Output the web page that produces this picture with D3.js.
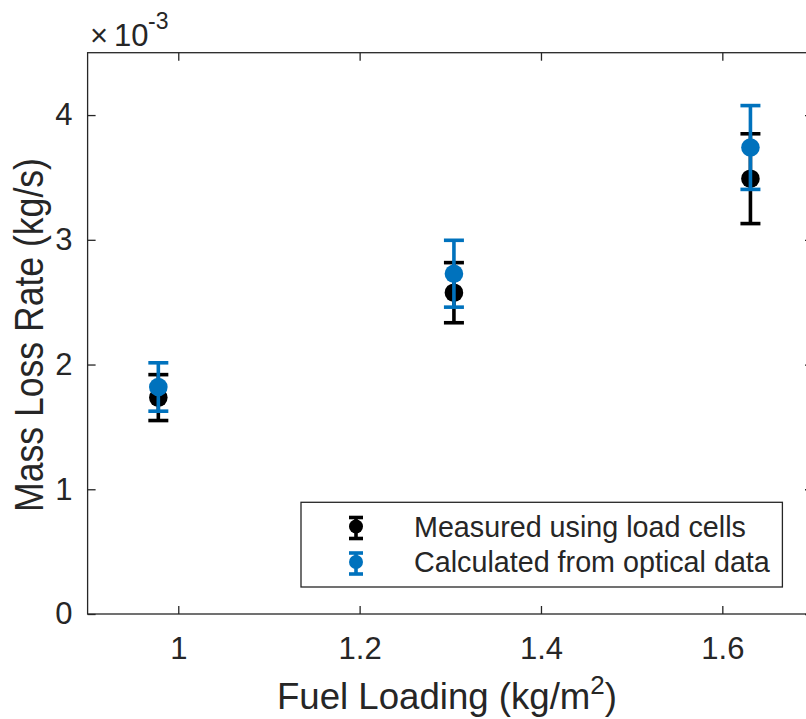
<!DOCTYPE html>
<html>
<head>
<meta charset="utf-8">
<script src="https://cdn.jsdelivr.net/npm/d3@7"></script>
<style>
  html, body { margin: 0; padding: 0; background: #fff; }
  svg { display: block; }
  text { font-family: "Liberation Sans", Arial, Helvetica, sans-serif; fill: #262626; }
</style>
</head>
<body>
<svg id="chart" width="806" height="719"></svg>
<script>
// Fuel loading (kg/m^2) for the three test cases
const fuelLoading = [0.978, 1.304, 1.631];
// Mass loss rate, in units of 1e-3 kg/s
const measuredRate = [1.735, 2.576, 3.49];
const measuredErr = [0.184, 0.241, 0.36];
const opticalRate = [1.82, 2.728, 3.74];
const opticalErr = [0.194, 0.268, 0.336];

const xTicks = [1, 1.2, 1.4, 1.6];
const yTicks = [0, 1, 2, 3, 4];
const seriesNames = ["Measured using load cells", "Calculated from optical data"];
const seriesColors = ["#000000", "#0072BD"];

const svg = d3.select("#chart");
const axisColor = "#262626";

const plot = { left: 87.6, top: 52.7, right: 813, bottom: 614 };

const x = d3.scaleLinear().domain([0.9, 1.7]).range([plot.left, plot.right]);
const y = d3.scaleLinear().domain([0, 4.5]).range([plot.bottom, plot.top]);

// Shrink or grow a text node's font so that it spans the given length
function fitText(sel, len) {
  const node = sel.node();
  const size = parseFloat(sel.attr("font-size"));
  const w = node.getComputedTextLength();
  if (w > 0) sel.attr("font-size", size * len / w);
  return sel;
}

// Box outline
svg.append("rect")
  .attr("x", plot.left).attr("y", plot.top)
  .attr("width", plot.right - plot.left).attr("height", plot.bottom - plot.top)
  .attr("fill", "none").attr("stroke", axisColor).attr("stroke-width", 1.3);

function styleAxis(g, showText) {
  g.select(".domain").remove();
  g.selectAll(".tick line").attr("stroke", axisColor).attr("stroke-width", 1.3);
  if (!showText) g.selectAll(".tick text").remove();
  else g.selectAll(".tick text").attr("fill", axisColor).attr("font-size", 31)
        .attr("font-family", "Liberation Sans, Arial, sans-serif");
}

const fmt = d => String(d);

svg.append("g").attr("transform", `translate(0,${plot.bottom})`)
  .call(d3.axisBottom(x).tickValues(xTicks).tickFormat(fmt).tickSizeInner(-8).tickSizeOuter(0).tickPadding(23))
  .call(g => styleAxis(g, true));
svg.append("g").attr("transform", `translate(0,${plot.top})`)
  .call(d3.axisTop(x).tickValues(xTicks).tickSizeInner(-8).tickSizeOuter(0))
  .call(g => styleAxis(g, false));
svg.append("g").attr("transform", `translate(${plot.left},0)`)
  .call(d3.axisLeft(y).tickValues(yTicks).tickFormat(fmt).tickSizeInner(-8).tickSizeOuter(0).tickPadding(15))
  .call(g => styleAxis(g, true));
svg.append("g").attr("transform", `translate(${plot.right},0)`)
  .call(d3.axisRight(y).tickValues(yTicks).tickSizeInner(-8).tickSizeOuter(0))
  .call(g => styleAxis(g, false));

// Exponent label above the y axis
const expo = svg.append("text").attr("y", 45.5).attr("font-size", 31);
expo.append("tspan").attr("x", 90).text("\u00D7");
expo.append("tspan").attr("x", 114).text("10");
expo.append("tspan").attr("x", 148).attr("dy", -17).attr("font-size", 23).text("-3");

// Axis titles
const xt = svg.append("text").attr("x", 447).attr("y", 709).attr("text-anchor", "middle").attr("font-size", 37);
xt.append("tspan").text("Fuel Loading (kg/m");
xt.append("tspan").attr("dy", -15).attr("font-size", 26).text("2");
xt.append("tspan").attr("dy", 15).text(")");
fitText(xt, 340);

const yt = svg.append("text")
  .attr("text-anchor", "middle").attr("font-size", 37)
  .text("Mass Loss Rate (kg/s)");
fitText(yt, 354);
yt.attr("transform", `translate(43,335) rotate(-90) scale(1,1.16)`);

// Error bars with circular markers
const capHalf = 10;
const series = [
  { vals: measuredRate, errs: measuredErr, color: seriesColors[0] },
  { vals: opticalRate, errs: opticalErr, color: seriesColors[1] }
];

series.forEach(s => {
  const g = svg.append("g");
  const pts = fuelLoading.map((f, i) => ({ f, v: s.vals[i], e: s.errs[i] }));
  const bar = g.selectAll("g").data(pts).join("g");
  bar.append("line")
    .attr("x1", d => x(d.f)).attr("x2", d => x(d.f))
    .attr("y1", d => y(d.v + d.e)).attr("y2", d => y(d.v - d.e))
    .attr("stroke", s.color).attr("stroke-width", 3.6);
  bar.append("line")
    .attr("x1", d => x(d.f) - capHalf).attr("x2", d => x(d.f) + capHalf)
    .attr("y1", d => y(d.v + d.e)).attr("y2", d => y(d.v + d.e))
    .attr("stroke", s.color).attr("stroke-width", 3.6);
  bar.append("line")
    .attr("x1", d => x(d.f) - capHalf).attr("x2", d => x(d.f) + capHalf)
    .attr("y1", d => y(d.v - d.e)).attr("y2", d => y(d.v - d.e))
    .attr("stroke", s.color).attr("stroke-width", 3.6);
  bar.append("circle")
    .attr("cx", d => x(d.f)).attr("cy", d => y(d.v)).attr("r", 9.3)
    .attr("fill", s.color);
});

// Legend
const legend = svg.append("g");
legend.append("rect")
  .attr("x", 301).attr("y", 502.3).attr("width", 481.4).attr("height", 84.7)
  .attr("fill", "#fff").attr("stroke", axisColor).attr("stroke-width", 1.3);

const legendRows = [526.5, 562];
let legendFont = 28;
seriesNames.forEach((name, i) => {
  const cy = legendRows[i];
  const cx = 356;
  const col = seriesColors[i];
  const gi = legend.append("g");
  gi.append("line").attr("x1", cx).attr("x2", cx).attr("y1", cy - 9).attr("y2", cy + 12)
    .attr("stroke", col).attr("stroke-width", 3.6);
  gi.append("line").attr("x1", cx - 7).attr("x2", cx + 7).attr("y1", cy - 9).attr("y2", cy - 9)
    .attr("stroke", col).attr("stroke-width", 3.6);
  gi.append("line").attr("x1", cx - 7).attr("x2", cx + 7).attr("y1", cy + 12).attr("y2", cy + 12)
    .attr("stroke", col).attr("stroke-width", 3.6);
  gi.append("circle").attr("cx", cx).attr("cy", cy).attr("r", 7).attr("fill", col);
  const t = gi.append("text").attr("x", 414).attr("y", cy + 10).attr("font-size", legendFont).text(name);
  if (i === 0) { fitText(t, 332); legendFont = parseFloat(t.attr("font-size")); }
});
</script>
</body>
</html>
